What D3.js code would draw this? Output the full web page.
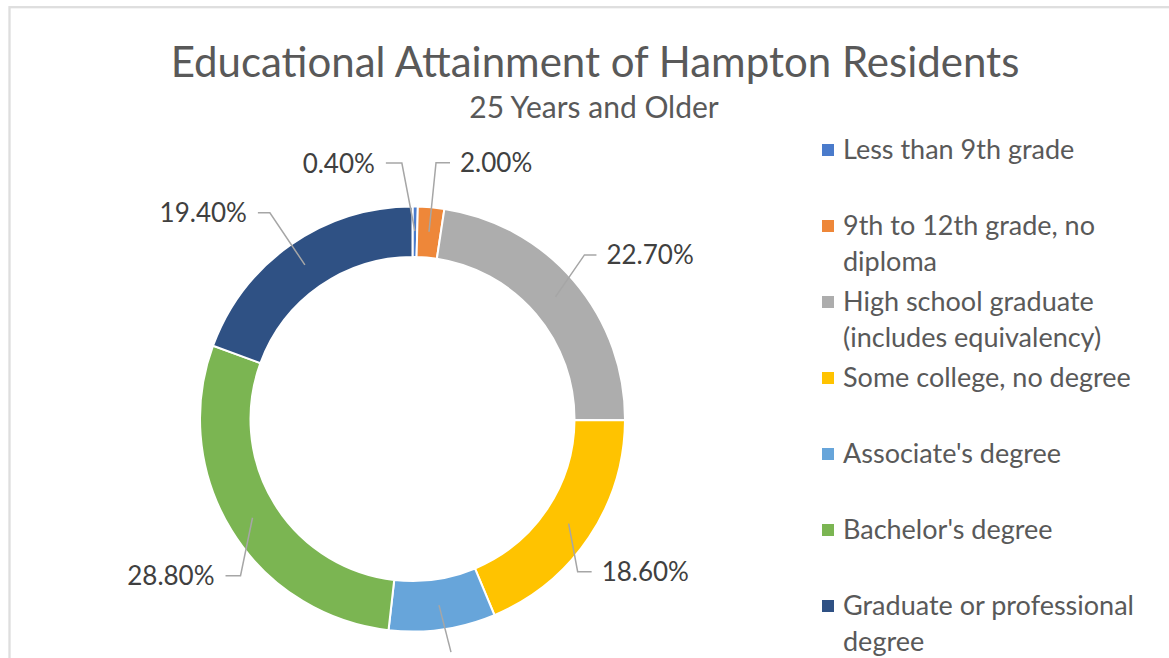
<!DOCTYPE html>
<html>
<head>
<meta charset="utf-8">
<script src="https://cdn.jsdelivr.net/npm/d3@7"></script>
<style>
  body { margin: 0; background: #fff; }
  svg { display: block; font-family: Lato, "Open Sans", sans-serif; }
</style>
</head>
<body>
<svg id="chart"></svg>
<script>
// Data
var categories = ["Less than 9th grade", "9th to 12th grade, no diploma",
    "High school graduate (includes equivalency)", "Some college, no degree",
    "Associate's degree", "Bachelor's degree", "Graduate or professional degree"];
var shares = [0.4, 2.0, 22.7, 18.6, 8.1, 28.8, 19.4];
// legend text as it is wrapped in the picture
var legendLines = [["Less than 9th grade"], ["9th to 12th grade, no", "diploma"],
    ["High school graduate", "(includes equivalency)"], ["Some college, no degree"],
    ["Associate's degree"], ["Bachelor's degree"], ["Graduate or professional", "degree"]];
var colors = ["#4a7bcb", "#ee8739", "#adadad", "#ffc300", "#67a5da", "#7bb552", "#2f5184"];

var width = 1169, height = 658;
var cx = 412.5, cy = 419, rOuter = 212.5, rInner = 162, rAnchor = 188;

var svg = d3.select("#chart")
    .attr("width", width)
    .attr("height", height);

// chart area border (runs off the right and bottom edge)
svg.append("rect")
    .attr("x", 9.5).attr("y", 7.2)
    .attr("width", 1300).attr("height", 800)
    .attr("fill", "none")
    .attr("stroke", "#dedede")
    .attr("stroke-width", 2.3);

// Titles
svg.append("text")
    .attr("x", 595).attr("y", 77)
    .attr("text-anchor", "middle")
    .style("font-size", "42px")
    .style("fill", "#595959")
    .text("Educational Attainment of Hampton Residents");

svg.append("text")
    .attr("x", 594).attr("y", 118)
    .attr("text-anchor", "middle")
    .style("font-size", "30px")
    .style("fill", "#595959")
    .text("25 Years and Older");

// Donut
var pie = d3.pie().sort(null).value(function(d) { return d; });
var arcs = pie(shares);
var arc = d3.arc().innerRadius(rInner).outerRadius(rOuter);
var anchorArc = d3.arc().innerRadius(rAnchor).outerRadius(rAnchor);

var g = svg.append("g").attr("transform", "translate(" + cx + "," + cy + ")");

g.selectAll(".slice")
    .data(arcs)
    .enter().append("path")
    .attr("class", "slice")
    .attr("d", arc)
    .attr("fill", function(d, i) { return colors[i]; })
    .attr("stroke", "#fff")
    .attr("stroke-width", 2);

// Data labels: elbow offset from the anchor point, tail length, side
var labelLayout = [
    { dx: -13, dy: -68, tail: -16, side: "end" },
    { dx: 7, dy: -69, tail: 14, side: "start" },
    { dx: 29, dy: -42, tail: 12, side: "start" },
    { dx: 9, dy: 48, tail: 14, side: "start" },
    { dx: 12, dy: 47, tail: 0, side: null },
    { dx: -12, dy: 58, tail: -15, side: "end" },
    { dx: -35, dy: -52, tail: -12, side: "end" }
];

arcs.forEach(function(d, i) {
    var p = anchorArc.centroid(d);
    var L = labelLayout[i];
    var ex = p[0] + L.dx, ey = p[1] + L.dy;
    var pts = [p, [ex, ey]];
    if (L.tail !== 0) pts.push([ex + L.tail, ey]);
    g.append("path")
        .attr("d", d3.line()(pts))
        .attr("fill", "none")
        .attr("stroke", "#a6a6a6")
        .attr("stroke-width", 1.5);
    if (!L.side) return; // the label of this slice falls below the picture
    g.append("text")
        .attr("x", ex + L.tail + (L.tail > 0 ? 10 : -11))
        .attr("y", ey + 9.5)
        .attr("text-anchor", L.side)
        .style("font-size", "26px")
        .style("fill", "#404040")
        .text(shares[i].toFixed(2) + "%");
});

// Legend
var legend = svg.append("g").attr("transform", "translate(822,0)");
var item = legend.selectAll(".item")
    .data(legendLines)
    .enter().append("g")
    .attr("class", "item")
    .attr("transform", function(d, i) { return "translate(0," + (150 + 76 * i) + ")"; });

item.append("rect")
    .attr("x", 0).attr("y", -6)
    .attr("width", 12).attr("height", 12)
    .attr("fill", function(d, i) { return colors[i]; });

item.append("text")
    .attr("x", 21)
    .attr("y", 9)
    .style("font-size", "27px")
    .style("fill", "#595959")
    .selectAll("tspan")
    .data(function(d) { return d; })
    .enter().append("tspan")
    .attr("x", 21)
    .attr("dy", function(d, j) { return j === 0 ? 0 : 36; })
    .text(function(d) { return d; });
</script>
</body>
</html>
